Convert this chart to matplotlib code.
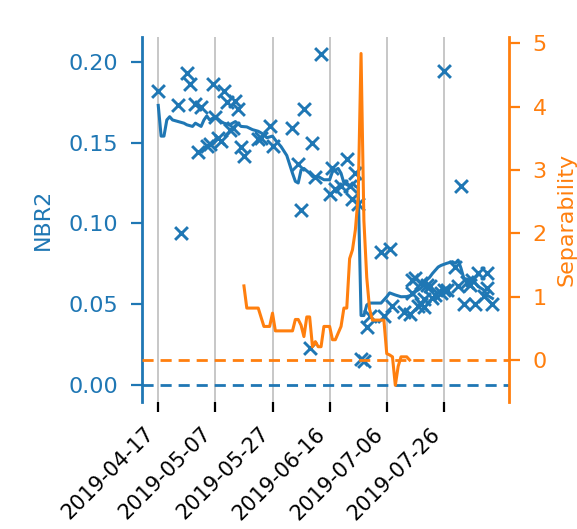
import numpy as np
from matplotlib import pyplot as plt

start_date = np.datetime64("2019-04-17")

# NBR2 observations (days after start, value)
obs_days = [0, 7, 8, 10, 11, 13, 14, 15, 17, 18, 19, 20, 21, 22, 23, 24, 25, 26, 27, 28,
            29, 30, 35, 36, 39, 40, 47, 49, 50, 51, 53, 54, 55, 57, 60, 61, 62, 64, 66, 67,
            68, 69, 70, 71, 72, 73, 74, 78, 79, 81, 82, 86, 88, 89, 89, 90, 91, 92, 92, 93,
            93, 94, 95, 96, 97, 99, 100, 100, 101, 104, 105, 106, 107, 108, 109, 110, 111, 112,
            114, 115, 115, 117]
obs_nbr2 = [0.182, 0.173, 0.094, 0.193, 0.186, 0.174, 0.144, 0.172, 0.148, 0.149, 0.186, 0.166,
            0.153, 0.151, 0.182, 0.175, 0.158, 0.159, 0.176, 0.171, 0.147, 0.142, 0.152, 0.153,
            0.160, 0.148, 0.159, 0.137, 0.108, 0.171, 0.023, 0.150, 0.129, 0.205, 0.118, 0.134,
            0.121, 0.123, 0.140, 0.123, 0.115, 0.131, 0.112, 0.016, 0.015, 0.036, 0.043, 0.082,
            0.043, 0.084, 0.049, 0.045, 0.044, 0.057, 0.065, 0.066, 0.049, 0.063, 0.050, 0.053,
            0.0485, 0.062, 0.061, 0.054, 0.056, 0.057, 0.194, 0.059, 0.059, 0.073, 0.061, 0.123,
            0.050, 0.064, 0.062, 0.065, 0.050, 0.069, 0.055, 0.069, 0.060, 0.050]

# smoothed NBR2
smooth_days = [0, 1, 2, 3, 4, 5, 7, 9, 10, 12, 13, 15, 16, 17, 18, 20, 22, 23, 25, 27, 29, 31,
               33, 35, 37, 38, 40, 41, 43, 45, 47, 48, 49, 50, 51, 53, 54, 56, 58, 60, 61, 63,
               64, 65, 67, 68, 69, 70, 71, 72, 73, 74, 76, 78, 80, 81, 83, 85, 87, 89, 90, 92,
               93, 94, 95, 96, 98, 99, 101, 103, 104, 105, 106, 107, 109, 111, 112, 114, 115, 117]
smooth_nbr2 = [0.173, 0.154, 0.154, 0.164, 0.166, 0.164, 0.163, 0.162, 0.161, 0.160, 0.162,
               0.160, 0.164, 0.1665, 0.164, 0.166, 0.163, 0.162, 0.161, 0.163, 0.160, 0.1597,
               0.158, 0.157, 0.155, 0.153, 0.154, 0.1516, 0.1475, 0.142, 0.131, 0.126, 0.125,
               0.133, 0.134, 0.131, 0.129, 0.129, 0.127, 0.127, 0.132, 0.134, 0.131, 0.125,
               0.123, 0.125, 0.123, 0.122, 0.043, 0.043, 0.0495, 0.0507, 0.0507, 0.0507,
               0.0546, 0.057, 0.0557, 0.0546, 0.0547, 0.0557, 0.0577, 0.060, 0.062, 0.065,
               0.0666, 0.069, 0.073, 0.074, 0.0753, 0.0763, 0.0753, 0.0773, 0.0722, 0.066,
               0.065, 0.063, 0.061, 0.0588, 0.0557, 0.0536]

# separability
sep_days = [30, 31, 35, 37, 39, 40, 41, 47, 48, 49, 50, 51, 52, 53, 54, 55, 56, 57, 58, 60,
            61, 62, 64, 65, 66, 67, 68, 69, 70, 71, 72, 73, 74, 75, 79, 80, 81, 82, 83, 84,
            85, 87, 88]
sep_values = [1.17, 0.82, 0.82, 0.53, 0.53, 0.74, 0.46, 0.46, 0.64, 0.64, 0.55, 0.37, 0.68,
              0.68, 0.21, 0.29, 0.21, 0.21, 0.53, 0.53, 0.32, 0.32, 0.53, 0.82, 0.82, 1.6,
              1.74, 2.05, 2.58, 4.84, 2.2, 1.3, 0.8, 0.63, 0.63, 0.1, 0.08, 0.05, -0.4, -0.1,
              0.05, 0.05, 0.0]

tick_labels = ["2019-04-17", "2019-05-07", "2019-05-27", "2019-06-16", "2019-07-06", "2019-07-26"]

blue = "#1f77b4"
orange = "#ff7f0e"


def to_dates(days):
    return start_date + np.array(days).astype("timedelta64[D]")


def main():
    plt.rcParams['font.family'] = ['DejaVu Sans']
    fig = plt.figure(figsize=(5.77, 5.29), dpi=100)
    ax = fig.add_axes([0.2456, 0.2401, 0.8821 - 0.2456, 0.9306 - 0.2401])
    ax2 = ax.twinx()

    ax.scatter(to_dates(obs_days), obs_nbr2, marker='x', s=85, color=blue, linewidths=2.1, zorder=3)
    ax.plot(to_dates(smooth_days), smooth_nbr2, color=blue, linewidth=2.2, zorder=3)
    ax.axhline(0, color=blue, linestyle='--', linewidth=2.0, dashes=(4, 2.5))
    ax2.plot(to_dates(sep_days), sep_values, color=orange, linewidth=2.2)
    ax2.axhline(0, color=orange, linestyle='--', linewidth=2.0, dashes=(4, 2.5))

    ax.set_xlim(start_date - np.timedelta64(139, 'h'), start_date + np.timedelta64(2947, 'h'))
    ax.set_ylim(-0.0105, 0.2155)
    ax2.set_ylim(-0.663, 5.105)

    ax.set_xticks(np.array(tick_labels, dtype="datetime64[D]"))
    ax.set_xticklabels(tick_labels, rotation=45, ha='right', fontsize=15)
    ax.grid(axis='x', color='#b8b8b8', linewidth=1.1)
    ax.set_axisbelow(True)

    ax.set_yticks([0.0, 0.05, 0.10, 0.15, 0.20])
    ax.set_yticklabels(["0.00", "0.05", "0.10", "0.15", "0.20"])
    ax2.set_yticks([0, 1, 2, 3, 4, 5])

    ax.tick_params(axis='y', colors=blue, labelsize=16, length=8, width=1.6, pad=9)
    ax2.tick_params(axis='y', colors=orange, labelsize=16, length=8, width=1.6, pad=9)
    ax.tick_params(axis='x', colors='black', labelsize=15, length=7.5, width=1.6, pad=8)

    ax.set_ylabel("NBR2", color=blue, fontsize=16, labelpad=11)
    ax2.set_ylabel("Separability", color=orange, fontsize=16, labelpad=7)

    for a in (ax, ax2):
        a.spines['top'].set_visible(False)
        a.spines['bottom'].set_visible(False)
    ax.spines['right'].set_visible(False)
    ax2.spines['left'].set_visible(False)
    ax.spines['left'].set_color(blue)
    ax.spines['left'].set_linewidth(2.0)
    ax2.spines['right'].set_color(orange)
    ax2.spines['right'].set_linewidth(2.0)

    plt.savefig("out.png", dpi=100)
    plt.close()


if __name__ == "__main__":
    main()
